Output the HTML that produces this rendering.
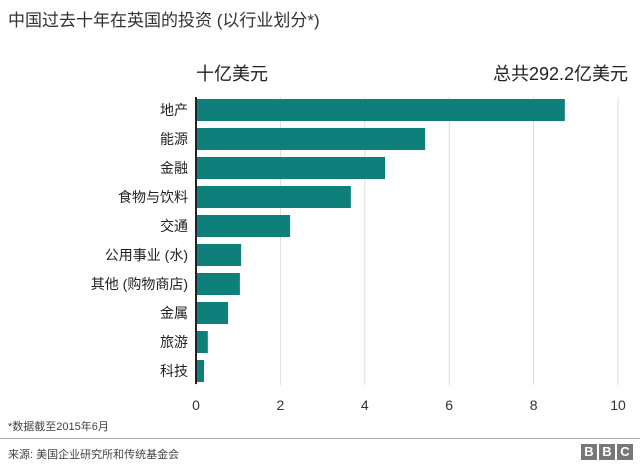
<!DOCTYPE html>
<html><head><meta charset="utf-8"><style>
body{margin:0;width:640px;height:465px;background:#fff;font-family:"Liberation Sans","Noto Sans CJK SC",sans-serif;overflow:hidden;position:relative}
.t{position:absolute;white-space:nowrap;color:#222}
</style></head><body>
<div class="t" style="left:8px;top:6px;font-size:17px;color:#333">中国过去十年在英国的投资 (以行业划分*)</div>
<div class="t" style="left:196px;top:60px;font-size:18px">十亿美元</div>
<div class="t" style="right:12px;top:60px;font-size:18px">总共292.2亿美元</div>
<svg id="chart" width="640" height="420" style="position:absolute;left:0;top:0"></svg>
<div class="t" style="left:8px;top:418px;font-size:11px;color:#444">*数据截至2015年6月</div>
<div style="position:absolute;left:0;top:438px;width:640px;height:1px;background:#aaa"></div>
<div class="t" style="left:8px;top:446px;font-size:11px;color:#444">来源: 美国企业研究所和传统基金会</div>
<div style="position:absolute;left:581px;top:444px;display:flex;gap:2px">
<span style="width:16px;height:16px;background:#777;color:#fff;font:bold 13px 'Liberation Sans';text-align:center;line-height:16px">B</span>
<span style="width:16px;height:16px;background:#777;color:#fff;font:bold 13px 'Liberation Sans';text-align:center;line-height:16px">B</span>
<span style="width:16px;height:16px;background:#777;color:#fff;font:bold 13px 'Liberation Sans';text-align:center;line-height:16px">C</span>
</div>
<script>
const categories=["地产","能源","金融","食物与饮料","交通","公用事业 (水)","其他 (购物商店)","金属","旅游","科技"];
const values=[8.74,5.43,4.48,3.67,2.23,1.07,1.04,0.76,0.28,0.19];
const ticks=[0,2,4,6,8,10];
const NS="http://www.w3.org/2000/svg";
const svg=document.getElementById('chart');
const x=v=>196+42.2*v;
const y=i=>99+i*29;
const bh=22;
function mk(t,a){const e=document.createElementNS(NS,t);for(const k in a)e.setAttribute(k,a[k]);svg.appendChild(e);return e;}
ticks.forEach(t=>{
  const g=mk('line',{x1:x(t),x2:x(t),y1:97,y2:385,stroke:'#ddd','stroke-width':1});
  
  
  const l=mk('text',{x:x(t),y:410,'text-anchor':'middle','font-size':14,fill:'#333','font-family':'Liberation Sans'});
  l.textContent=t;
  
  
});
categories.forEach((c,i)=>{
  const r=mk('rect',{x:x(0),y:y(i),width:x(values[i])-x(0),height:bh,fill:'#0f7f7c'});
  
  
  const l=mk('text',{x:188,y:y(i)+bh/2+5,'text-anchor':'end','font-size':14,fill:'#222','font-family':'Liberation Sans, Noto Sans CJK SC, sans-serif'});
  l.textContent=c;
  
  
});
const ax=mk('line',{x1:x(0),x2:x(0),y1:97,y2:384,stroke:'#222','stroke-width':2});


</script>
</body></html>
